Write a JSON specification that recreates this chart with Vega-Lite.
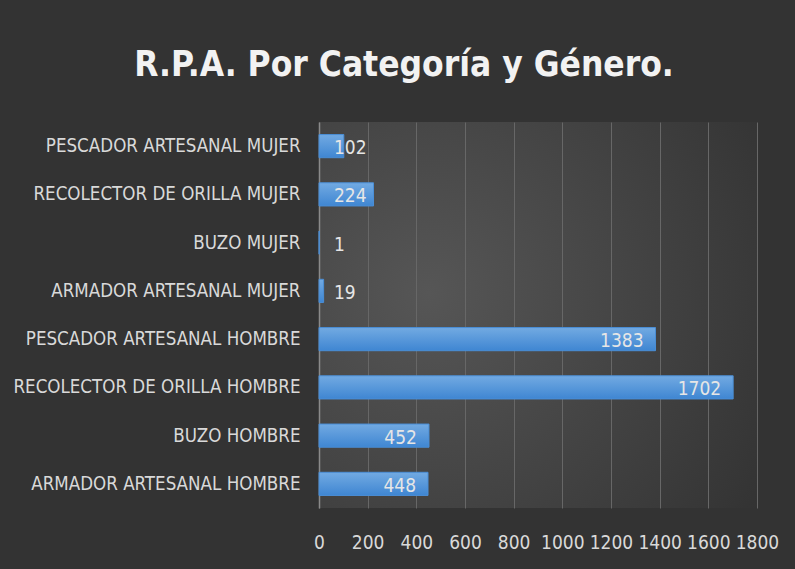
{
  "$schema": "https://vega.github.io/schema/vega-lite/v6.json",
  "width": 438,
  "height": 386,
  "autosize": "none",
  "padding": {"left": 319, "top": 122, "right": 38, "bottom": 61},
  "background": "#333333",
  "title": {
    "text": "R.P.A. Por Categoría  y Género.",
    "font": "DejaVu Sans Condensed, Liberation Sans, sans-serif",
    "fontSize": 35,
    "fontWeight": "bold",
    "color": "#f2f2f2",
    "anchor": "middle",
    "frame": "group",
    "dx": -134,
    "baseline": "alphabetic",
    "offset": 11
  },
  "data": {
    "values": [
      {"categoria": "PESCADOR ARTESANAL MUJER", "valor": 102},
      {"categoria": "RECOLECTOR DE ORILLA MUJER", "valor": 224},
      {"categoria": "BUZO MUJER", "valor": 1},
      {"categoria": "ARMADOR ARTESANAL MUJER", "valor": 19},
      {"categoria": "PESCADOR ARTESANAL HOMBRE", "valor": 1383},
      {"categoria": "RECOLECTOR DE ORILLA HOMBRE", "valor": 1702},
      {"categoria": "BUZO HOMBRE", "valor": 452},
      {"categoria": "ARMADOR ARTESANAL HOMBRE", "valor": 448}
    ]
  },
  "encoding": {
    "y": {
      "field": "categoria",
      "type": "nominal",
      "sort": null,
      "scale": {"paddingInner": 0.52, "paddingOuter": 0.26},
      "axis": {
        "title": null,
        "ticks": false,
        "domain": true,
        "domainColor": "#8a8a8a",
        "domainWidth": 1.5,
        "labelFont": "DejaVu Sans Condensed, Liberation Sans, sans-serif",
        "labelFontSize": 18.6,
        "labelColor": "#d9d9d9",
        "labelPadding": 19,
        "labelLimit": 400
      }
    }
  },
  "layer": [
    {
      "mark": {
        "type": "bar",
        "stroke": "#4a8ed6",
        "strokeWidth": 1,
        "color": {
          "gradient": "linear",
          "x1": 0, "y1": 0, "x2": 0, "y2": 1,
          "stops": [
            {"offset": 0, "color": "#72aae2"},
            {"offset": 1, "color": "#3f86d2"}
          ]
        }
      },
      "encoding": {
        "x": {
          "field": "valor",
          "type": "quantitative",
          "scale": {"domain": [0, 1800], "nice": false},
          "axis": {
            "title": null,
            "values": [0, 200, 400, 600, 800, 1000, 1200, 1400, 1600, 1800],
            "format": "d",
            "labelOverlap": false,
            "labelFlush": false,
            "grid": true,
            "gridColor": "#676767",
            "gridWidth": 1,
            "domain": false,
            "ticks": false,
            "labelFont": "DejaVu Sans Condensed, Liberation Sans, sans-serif",
            "labelFontSize": 19,
            "labelColor": "#d9d9d9",
            "labelPadding": 25
          }
        }
      }
    },
    {
      "transform": [{"filter": "datum.valor >= 300"}],
      "mark": {
        "type": "text",
        "align": "right",
        "baseline": "middle",
        "dx": -12,
        "dy": 2,
        "font": "DejaVu Sans Condensed, Liberation Sans, sans-serif",
        "fontSize": 19,
        "color": "#e6e6e6"
      },
      "encoding": {
        "x": {"field": "valor", "type": "quantitative"},
        "text": {"field": "valor", "type": "quantitative"}
      }
    },
    {
      "transform": [{"filter": "datum.valor < 300"}],
      "mark": {
        "type": "text",
        "align": "left",
        "baseline": "middle",
        "dx": 15,
        "dy": 2,
        "font": "DejaVu Sans Condensed, Liberation Sans, sans-serif",
        "fontSize": 19,
        "color": "#e6e6e6"
      },
      "encoding": {
        "x": {"datum": 0, "type": "quantitative"},
        "text": {"field": "valor", "type": "quantitative"}
      }
    }
  ],
  "config": {
    "view": {
      "stroke": null,
      "fill": {
        "gradient": "radial",
        "x1": 0.25, "y1": 0.45, "r1": 0,
        "x2": 0.25, "y2": 0.45, "r2": 0.9,
        "stops": [
          {"offset": 0, "color": "#565656"},
          {"offset": 1, "color": "#333333"}
        ]
      }
    }
  }
}
